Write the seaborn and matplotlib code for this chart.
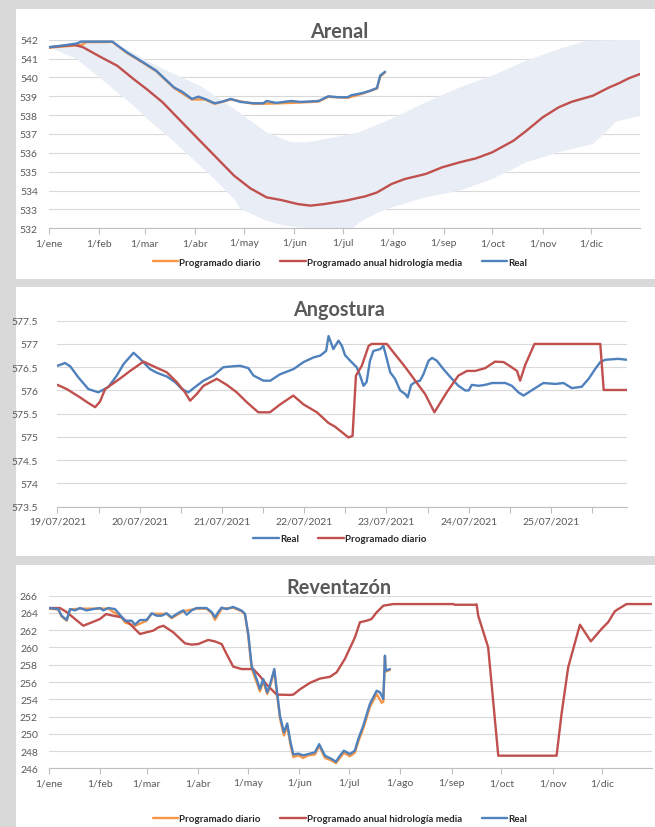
import numpy as np
import matplotlib
matplotlib.use("Agg")
import matplotlib.pyplot as plt
from matplotlib.patches import Rectangle
from matplotlib.ticker import FixedLocator, FuncFormatter
import seaborn as sns

# ---------------- data ----------------
months = ['1/ene', '1/feb', '1/mar', '1/abr', '1/may', '1/jun',
          '1/jul', '1/ago', '1/sep', '1/oct', '1/nov', '1/dic']
month_days = [0, 31, 59, 90, 120, 151, 181, 212, 243, 273, 304, 334]

# Arenal
arenal_real_day = [0, 11, 17, 20, 30, 39, 48, 58, 66, 77, 82, 88, 92, 96, 102, 106,
                   112, 118, 126, 132, 134, 140, 149, 155, 166, 172, 178, 184, 186,
                   193, 198, 202, 204, 207]
arenal_real_val = [541.6, 541.72, 541.8, 541.9, 541.9, 541.9, 541.33, 540.8, 540.36,
                   539.47, 539.24, 538.86, 538.98, 538.86, 538.63, 538.7, 538.86, 538.7,
                   538.63, 538.63, 538.75, 538.65, 538.75, 538.7, 538.75, 539.0, 538.95,
                   538.95, 539.05, 539.17, 539.3, 539.44, 540.1, 540.3]
arenal_prog_day = [0, 20, 23, 39, 48, 58, 66, 77, 88, 96, 102, 112, 126, 140, 155,
                   166, 172, 184, 193, 202, 204, 207]
arenal_prog_val = [541.58, 541.72, 541.87, 541.88, 541.3, 540.77, 540.33, 539.44,
                   538.83, 538.83, 538.6, 538.83, 538.6, 538.62, 538.67, 538.72, 538.97,
                   538.92, 539.14, 539.41, 540.05, 540.27]
arenal_anual_day = [0, 10, 16, 21, 31, 42, 52, 60, 70, 81, 93, 104, 114, 124, 134, 143,
                    153, 161, 170, 183, 195, 202, 211, 219, 232, 242, 253, 263, 273, 286,
                    294, 304, 314, 322, 335, 345, 351, 357, 364]
arenal_anual_val = [541.6, 541.68, 541.72, 541.6, 541.12, 540.62, 539.92, 539.39, 538.68,
                    537.7, 536.64, 535.67, 534.79, 534.12, 533.64, 533.5, 533.29, 533.2,
                    533.29, 533.47, 533.7, 533.9, 534.35, 534.61, 534.88, 535.23, 535.5,
                    535.71, 536.03, 536.64, 537.17, 537.88, 538.42, 538.71, 539.03,
                    539.47, 539.69, 539.95, 540.18]
band_up_day = [0, 20, 35, 48, 62, 77, 93, 114, 134, 149, 159, 170, 191, 211, 232, 253,
               273, 294, 314, 331, 364]
band_up_val = [541.6, 541.9, 541.85, 541.5, 540.8, 540.18, 539.56, 538.33, 537.09,
               536.56, 536.56, 536.73, 537.09, 537.8, 538.68, 539.47, 540.09, 540.89,
               541.5, 541.95, 542.0]
band_lo_day = [0, 17, 31, 42, 52, 62, 73, 83, 93, 104, 114, 118, 134, 145, 160, 187, 191,
               201, 211, 232, 253, 273, 294, 314, 335, 343, 349, 364]
band_lo_val = [541.6, 540.98, 540.0, 539.21, 538.5, 537.7, 536.9, 536.11, 535.32, 534.44,
               533.55, 533.02, 532.4, 532.14, 532.0, 532.0, 532.3, 532.76, 533.11,
               533.64, 534.0, 534.61, 535.5, 536.03, 536.47, 537.09, 537.65, 537.97]

# Angostura (hours from 19/07/2021 00:00)
ang_dates = ['19/07/2021', '20/07/2021', '21/07/2021', '22/07/2021',
             '23/07/2021', '24/07/2021', '25/07/2021']
ang_real_h = [0, 2.2, 3.7, 6.1, 9.0, 11.9, 14.8, 17.3, 19.3, 22.2, 24.1, 27.0, 29.0,
              31.9, 34.3, 36.3, 38.2, 40.1, 42.6, 45.5, 48.4, 51.3, 53.3, 55.7, 57.2,
              60.1, 62.1, 65.0, 68.9, 71.8, 74.7, 76.7, 78.4, 79.1, 80.5, 82.0, 83.0,
              83.9, 85.4, 87.3, 88.3, 89.3, 90.2, 91.2, 92.2, 94.2, 95.1, 96.1, 97.1,
              98.5, 100.0, 101.5, 102.2, 103.2, 104.4, 105.8, 106.8, 108.3, 109.3,
              110.7, 112.6, 115.1, 117.0, 119.0, 120.0, 120.9, 122.9, 124.8, 126.8,
              130.7, 132.6, 134.5, 136.0, 137.5, 139.4, 141.8, 145.3, 147.7, 150.1,
              153.0, 155.0, 156.9, 158.4, 159.9, 163.7, 166.2]
ang_real_v = [576.53, 576.59, 576.52, 576.28, 576.03, 575.96, 576.07, 576.32, 576.57,
              576.81, 576.68, 576.46, 576.38, 576.30, 576.18, 576.03, 575.96, 576.07,
              576.21, 576.32, 576.50, 576.52, 576.53, 576.48, 576.32, 576.21, 576.21,
              576.35, 576.46, 576.61, 576.71, 576.75, 576.85, 577.17, 576.89, 577.07,
              576.96, 576.76, 576.64, 576.50, 576.32, 576.10, 576.18, 576.64, 576.85,
              576.89, 576.96, 576.68, 576.39, 576.25, 576.00, 575.92, 575.85, 576.12,
              576.18, 576.21, 576.35, 576.64, 576.70, 576.64, 576.46, 576.25, 576.10,
              576.00, 576.00, 576.12, 576.10, 576.12, 576.16, 576.16, 576.10, 575.96,
              575.89, 575.96, 576.05, 576.16, 576.14, 576.16, 576.05, 576.08, 576.25,
              576.46, 576.61, 576.66, 576.68, 576.66]
ang_prog_h = [0, 2.7, 6.6, 9.0, 11.0, 12.4, 13.9, 16.8, 18.7, 21.2, 25.1, 28.0, 31.9,
              34.8, 37.2, 38.7, 40.6, 42.6, 46.5, 49.4, 52.3, 55.2, 58.6, 62.0, 65.0,
              68.8, 71.8, 75.7, 79.1, 81.0, 83.4, 84.9, 86.1, 87.1, 88.8, 90.8, 91.7,
              96.1, 101.5, 107.3, 110.0, 113.6, 117.0, 119.5, 121.9, 124.8, 127.7,
              130.2, 132.1, 134.1, 135.0, 136.5, 139.2, 158.4, 159.4, 166.2]
ang_prog_v = [576.12, 576.03, 575.85, 575.73, 575.64, 575.76, 576.03, 576.18, 576.28,
              576.42, 576.62, 576.52, 576.39, 576.18, 575.96, 575.78, 575.92, 576.10,
              576.25, 576.12, 575.96, 575.75, 575.53, 575.53, 575.70, 575.89, 575.70,
              575.53, 575.30, 575.22, 575.08, 574.99, 575.02, 576.32, 576.53, 576.96,
              577.00, 577.00, 576.50, 575.92, 575.53, 575.96, 576.32, 576.42, 576.42,
              576.48, 576.62, 576.61, 576.52, 576.42, 576.21, 576.55, 577.00, 577.00,
              576.01, 576.01]

# Reventazon
rev_real_day = [0, 5.6, 7.6, 10.7, 12.7, 15.7, 18.7, 22.7, 26.7, 30.8, 32.8, 35.8, 39.8,
                43.8, 45.9, 49.9, 51.9, 54.9, 58.9, 62.0, 65.0, 68.0, 71.0, 74.0, 77.0,
                81.0, 83.1, 86.1, 89.1, 95.1, 98.2, 100.2, 102.2, 104.2, 107.2, 111.2,
                116.3, 118.3, 120.3, 122.3, 125.3, 127.3, 129.3, 131.7, 133.3, 136.0,
                137.4, 139.4, 141.8, 143.8, 145.8, 147.5, 150.5, 153.5, 156.5, 160.5,
                163.1, 166.6, 170.6, 173.2, 175.6, 178.0, 181.6, 184.6, 186.7, 189.7,
                193.7, 197.8, 199.8, 201.8, 202.8, 203.2, 205.8]
rev_real_val = [264.57, 264.45, 263.68, 263.18, 264.45, 264.3, 264.57, 264.3, 264.45,
                264.57, 264.3, 264.57, 264.45, 263.57, 263.1, 263.1, 262.64, 263.18,
                263.18, 263.96, 263.68, 263.68, 263.96, 263.49, 263.87, 264.3, 263.8,
                264.3, 264.57, 264.57, 264.1, 263.49, 264.1, 264.62, 264.45, 264.7,
                264.27, 263.9, 261.56, 257.89, 256.35, 255.19, 256.35, 254.8, 255.6,
                257.5, 255.2, 252.1, 250.17, 251.2, 249.0, 247.6, 247.7, 247.5, 247.65,
                247.85, 248.8, 247.46, 247.08, 246.76, 247.46, 248.04, 247.65, 248.04,
                249.39, 250.94, 253.45, 254.99, 254.8, 254.03, 259.05, 257.3, 257.5]
rev_prog_day = [0, 5.6, 7.6, 10.7, 12.7, 18.7, 30.8, 35.8, 43.8, 45.9, 51.9, 58.9, 62.0,
                71.0, 74.0, 81.0, 89.1, 95.1, 98.2, 100.2, 104.2, 111.2, 116.3, 118.3,
                120.3, 122.3, 125.3, 127.3, 129.3, 131.7, 133.3, 136.0, 137.4, 139.4,
                141.8, 143.8, 145.8, 147.5, 150.5, 153.5, 156.5, 160.5, 163.1, 166.6,
                170.6, 173.2, 175.6, 178.0, 181.6, 184.6, 186.7, 189.7, 193.7, 197.8,
                200.8, 201.8, 202.8, 203.2, 205.8]
rev_prog_val = [264.5, 264.4, 263.6, 263.1, 264.4, 264.5, 264.5, 264.5, 263.5, 262.9,
                262.5, 263.1, 263.9, 263.9, 263.4, 264.2, 264.5, 264.5, 264.0, 263.2,
                264.5, 264.6, 264.2, 263.8, 261.3, 257.6, 256.0, 254.9, 256.1, 254.6,
                255.4, 257.3, 255.0, 251.8, 249.8, 250.9, 248.7, 247.3, 247.5, 247.2,
                247.5, 247.6, 248.6, 247.2, 246.9, 246.6, 247.2, 247.8, 247.4, 247.8,
                249.1, 250.6, 253.1, 254.6, 253.6, 253.7, 258.9, 257.2, 257.4]
rev_anual_day = [0, 6.6, 10.7, 15.7, 20.7, 25.7, 30.8, 34.4, 38.8, 43.8, 48.9, 54.9,
                 58.9, 62.9, 66.0, 69.0, 75.0, 82.1, 86.1, 90.1, 96.1, 100.2, 104.2,
                 107.2, 111.2, 116.3, 123.3, 127.3, 131.4, 137.4, 145.4, 147.5, 151.5,
                 157.5, 163.6, 169.6, 173.6, 178.6, 184.7, 187.7, 191.7, 194.7, 197.8,
                 201.8, 207.8, 244.0, 245.0, 257.1, 258.1, 259.1, 265.1, 271.2, 306.4,
                 309.4, 313.4, 320.5, 327.1, 333.5, 337.5, 341.6, 343.6, 348.6, 364]
rev_anual_val = [264.57, 264.57, 264.1, 263.3, 262.52, 262.9, 263.3, 263.87, 263.68,
                 263.49, 262.72, 261.56, 261.76, 261.95, 262.33, 262.52, 261.76, 260.48,
                 260.33, 260.4, 260.87, 260.7, 260.4, 259.24, 257.78, 257.5, 257.5,
                 256.69, 255.7, 254.54, 254.5, 254.54, 255.15, 255.9, 256.4, 256.6,
                 257.12, 258.67, 261.18, 262.92, 263.1, 263.3, 264.08, 264.84, 265.03,
                 265.03, 264.95, 264.95, 265.0, 263.68, 260.02, 247.46, 247.46, 252.3,
                 257.7, 262.64, 260.71, 262.14, 262.92, 264.2, 264.45, 265.03, 265.03]

# ---------------- style ----------------
BLUE = '#4f81bd'
RED = '#c0504d'
ORANGE = '#f79646'
BAND = '#e9edf6'
GRID = '#d9d9d9'
TXT = '#595959'

sns.set_theme(style="white")
plt.rcParams['font.family'] = ['Lato', 'DejaVu Sans']

W, H = 655, 828
fig = plt.figure(figsize=(W / 100, H / 100), dpi=100, facecolor='#d9d9d9')

# white panels behind the axes
for top, bot in [(10, 280), (288, 557), (566, 828)]:
    fig.patches.append(Rectangle((16 / W, 1 - bot / H), (W - 16) / W, (bot - top) / H,
                                 transform=fig.transFigure, facecolor='white',
                                 edgecolor='none', zorder=-5))


def add_ax(l, t, r, b):
    ax = fig.add_axes([l / W, 1 - b / H, (r - l) / W, (b - t) / H])
    ax.set_zorder(2)
    ax.set_facecolor('none')
    for s in ['top', 'right', 'left']:
        ax.spines[s].set_visible(False)
    ax.spines['bottom'].set_color('#bfbfbf')
    ax.spines['bottom'].set_linewidth(0.8)
    ax.yaxis.grid(True, color=GRID, linewidth=0.8)
    ax.xaxis.grid(False)
    ax.set_axisbelow(True)
    ax.tick_params(axis='x', bottom=True, length=4, width=0.8, color='#bfbfbf',
                   labelsize=7.5, labelcolor=TXT, pad=3)
    ax.tick_params(axis='y', left=False, labelsize=7.5, labelcolor=TXT, pad=2)
    return ax


def line(ax, x, y, color, label):
    sns.lineplot(x=x, y=y, ax=ax, color=color, linewidth=1.7, label=label,
                 estimator=None, sort=False, legend=False)


def legend(ax, yc, order):
    h, lab = ax.get_legend_handles_labels()
    idx = [lab.index(o) for o in order]
    ax.legend([h[i] for i in idx], [lab[i] for i in idx], loc='center',
              bbox_to_anchor=(340 / W, 1 - yc / H), bbox_transform=fig.transFigure,
              ncol=len(order), frameon=False, handlelength=2.6, handletextpad=0.15,
              columnspacing=2.0, prop={'weight': 'bold', 'size': 7})


def title(txt, yc):
    fig.text(339 / W, 1 - yc / H, txt, ha='center', va='center', fontsize=14.3,
             fontweight='bold', color=TXT, zorder=3)


# ---------------- Arenal ----------------
ax1 = add_ax(49, 40.7, 640, 229.3)
ax1.fill(band_up_day + band_lo_day[::-1], band_up_val + band_lo_val[::-1],
         color=BAND, linewidth=0, zorder=1)
line(ax1, arenal_prog_day, arenal_prog_val, ORANGE, 'Programado diario')
line(ax1, arenal_anual_day, arenal_anual_val, RED, 'Programado anual hidrología media')
line(ax1, arenal_real_day, arenal_real_val, BLUE, 'Real')
ax1.set_xlim(0, 364)
ax1.set_ylim(532, 542)
ax1.set_yticks(np.arange(532, 543, 1))
ax1.set_xticks(month_days)
ax1.set_xticklabels(months)
ax1.set_xlabel('')
ax1.set_ylabel('')
legend(ax1, 263, ['Programado diario', 'Programado anual hidrología media', 'Real'])
title('Arenal', 32)

# ---------------- Angostura ----------------
ax2 = add_ax(57.5, 321.7, 627, 507.7)
line(ax2, ang_real_h, ang_real_v, BLUE, 'Real')
line(ax2, ang_prog_h, ang_prog_v, RED, 'Programado diario')
ax2.set_xlim(0, 166.2)
ax2.set_ylim(573.5, 577.5)
ax2.set_yticks(np.arange(573.5, 577.6, 0.5))
ax2.yaxis.set_major_formatter(FuncFormatter(lambda v, p: f'{v:g}'))
ax2.tick_params(axis='y', pad=8)
ax2.set_xticks([24 * i for i in range(len(ang_dates))])
ax2.set_xticklabels(ang_dates)
ax2.xaxis.set_minor_locator(FixedLocator([12 + 24 * i for i in range(7)]))
ax2.tick_params(axis='x', which='minor', bottom=True, length=4, width=0.8,
                color='#bfbfbf')
ax2.set_xlabel('')
ax2.set_ylabel('')
legend(ax2, 540, ['Real', 'Programado diario'])
title('Angostura', 310)

# ---------------- Reventazon ----------------
ax3 = add_ax(49, 596.7, 652, 769.3)
line(ax3, rev_prog_day, rev_prog_val, ORANGE, 'Programado diario')
line(ax3, rev_anual_day, rev_anual_val, RED, 'Programado anual hidrología media')
line(ax3, rev_real_day, rev_real_val, BLUE, 'Real')
ax3.set_xlim(0, 364)
ax3.set_ylim(246, 266)
ax3.set_yticks(np.arange(246, 267, 2))
ax3.set_xticks(month_days)
ax3.set_xticklabels(months)
ax3.set_xlabel('')
ax3.set_ylabel('')
legend(ax3, 820, ['Programado diario', 'Programado anual hidrología media', 'Real'])
title('Reventazón', 588)

fig.savefig('out.png', dpi=100, facecolor=fig.get_facecolor())
